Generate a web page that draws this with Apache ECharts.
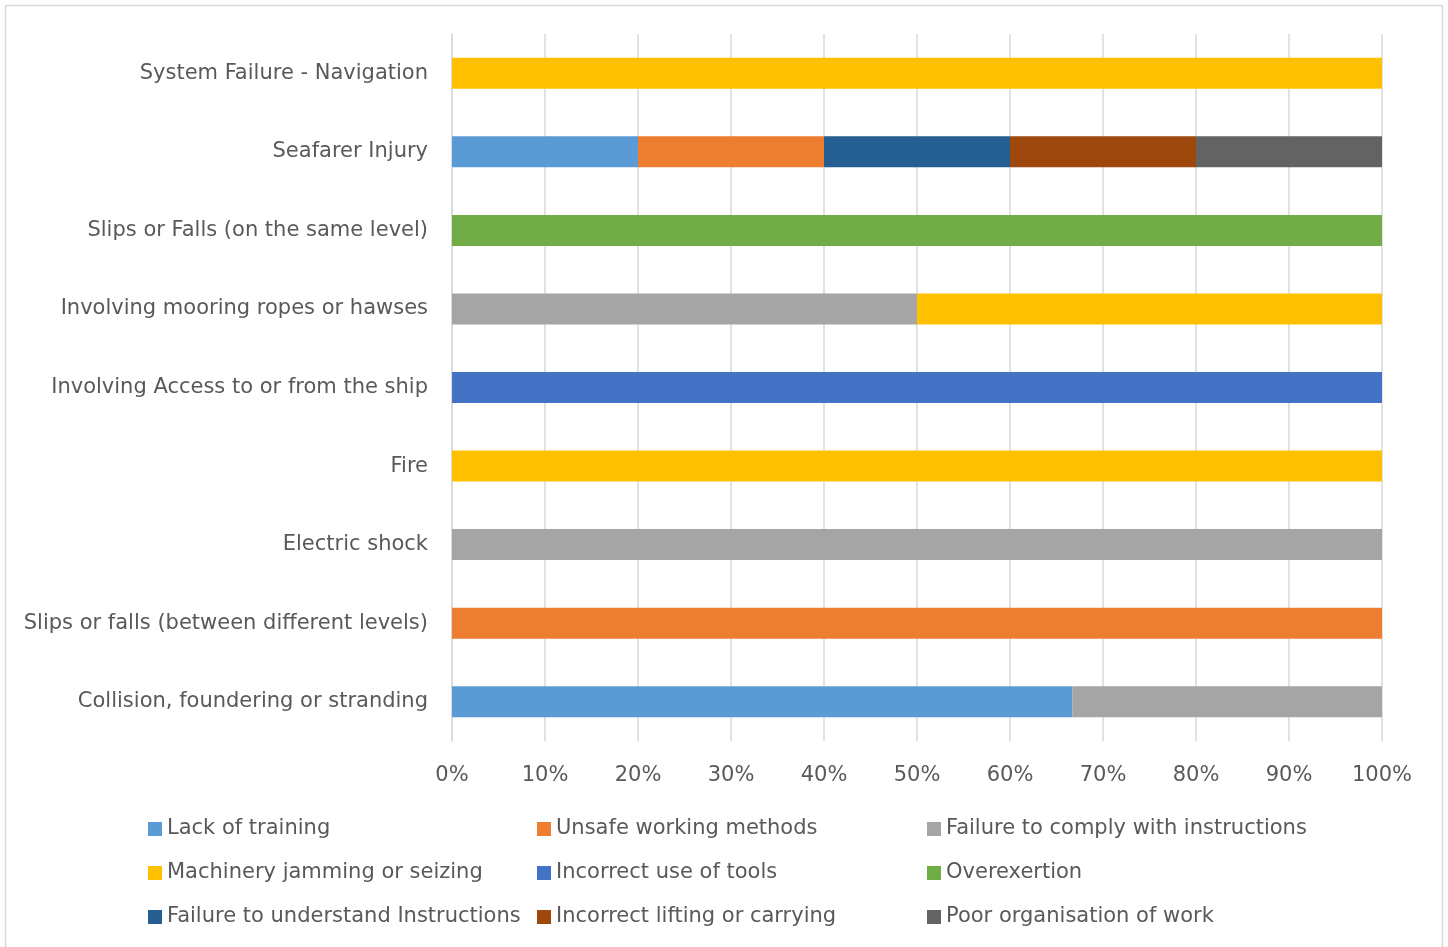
<!DOCTYPE html>
<html>
<head>
<meta charset="utf-8">
<script src="https://cdn.jsdelivr.net/npm/echarts@6/dist/echarts.min.js"></script>
<style>
  html, body { margin: 0; padding: 0; background: #ffffff; }
  #chart { width: 1448px; height: 947px; }
</style>
</head>
<body>
<div id="chart"></div>
<script>
// Incident categories, bottom to top
const categories = [
  'Collision, foundering or stranding',
  'Slips or falls (between different levels)',
  'Electric shock',
  'Fire',
  'Involving Access to or from the ship',
  'Involving mooring ropes or hawses',
  'Slips or Falls (on the same level)',
  'Seafarer Injury',
  'System Failure - Navigation'
];

// Share of each contributing cause per category (%)
const lackOfTraining         = [66.7, 0, 0, 0, 0, 0, 0, 20, 0];
const unsafeWorkingMethods   = [0, 100, 0, 0, 0, 0, 0, 20, 0];
const failureToComply        = [33.3, 0, 100, 0, 0, 50, 0, 0, 0];
const machineryJamming       = [0, 0, 0, 100, 0, 50, 0, 0, 100];
const incorrectUseOfTools    = [0, 0, 0, 0, 100, 0, 0, 0, 0];
const overexertion           = [0, 0, 0, 0, 0, 0, 100, 0, 0];
const failureToUnderstand    = [0, 0, 0, 0, 0, 0, 0, 20, 0];
const incorrectLifting       = [0, 0, 0, 0, 0, 0, 0, 20, 0];
const poorOrganisation       = [0, 0, 0, 0, 0, 0, 0, 20, 0];

const xTicks = [0, 10, 20, 30, 40, 50, 60, 70, 80, 90, 100];

const seriesDefs = [
  { name: 'Lack of training', data: lackOfTraining, color: '#5B9BD5' },
  { name: 'Unsafe working methods', data: unsafeWorkingMethods, color: '#ED7D31' },
  { name: 'Failure to comply with instructions', data: failureToComply, color: '#A5A5A5' },
  { name: 'Machinery jamming or seizing', data: machineryJamming, color: '#FFC000' },
  { name: 'Incorrect use of tools', data: incorrectUseOfTools, color: '#4472C4' },
  { name: 'Overexertion', data: overexertion, color: '#70AD47' },
  { name: 'Failure to understand Instructions', data: failureToUnderstand, color: '#255E91' },
  { name: 'Incorrect lifting or carrying', data: incorrectLifting, color: '#9E480E' },
  { name: 'Poor organisation of work', data: poorOrganisation, color: '#636363' }
];

const FONT = 'DejaVu Sans';
const TEXT = '#595959';

const legendBase = {
  orient: 'vertical',
  top: 817,
  padding: 0,
  itemWidth: 14,
  itemHeight: 14,
  itemGap: 20,
  icon: 'rect',
  textStyle: { fontFamily: FONT, fontSize: 21, color: TEXT, lineHeight: 24 }
};

const chart = echarts.init(document.getElementById('chart'));
chart.setOption({
  backgroundColor: '#ffffff',
  animation: false,
  graphic: [{
    type: 'rect',
    shape: { x: 5.5, y: 5.5, width: 1437, height: 945 },
    style: { fill: 'none', stroke: '#d9d9d9', lineWidth: 1.5 },
    silent: true
  }],
  legend: [
    Object.assign({}, legendBase, { left: 148, data: [seriesDefs[0].name, seriesDefs[3].name, seriesDefs[6].name] }),
    Object.assign({}, legendBase, { left: 537, data: [seriesDefs[1].name, seriesDefs[4].name, seriesDefs[7].name] }),
    Object.assign({}, legendBase, { left: 927, data: [seriesDefs[2].name, seriesDefs[5].name, seriesDefs[8].name] })
  ],
  grid: { left: 452, right: 66, top: 34, bottom: 206, containLabel: false },
  xAxis: {
    type: 'value',
    min: xTicks[0],
    max: xTicks[xTicks.length - 1],
    interval: xTicks[1] - xTicks[0],
    axisLine: { show: false },
    axisTick: { show: false },
    splitLine: { show: true, lineStyle: { color: '#d9d9d9', width: 1.5 } },
    axisLabel: {
      formatter: v => v + '%',
      fontFamily: FONT, fontSize: 21, color: TEXT, margin: 24
    }
  },
  yAxis: {
    type: 'category',
    data: categories,
    axisLine: { show: true, lineStyle: { color: '#d9d9d9', width: 1.5 } },
    axisTick: { show: false },
    axisLabel: { fontFamily: FONT, fontSize: 21, color: TEXT, margin: 24, padding: [7, 0, 0, 0] }
  },
  series: seriesDefs.map(s => ({
    name: s.name,
    type: 'bar',
    stack: 'total',
    barWidth: 31,
    data: s.data,
    itemStyle: { color: s.color }
  }))
});
</script>
</body>
</html>
